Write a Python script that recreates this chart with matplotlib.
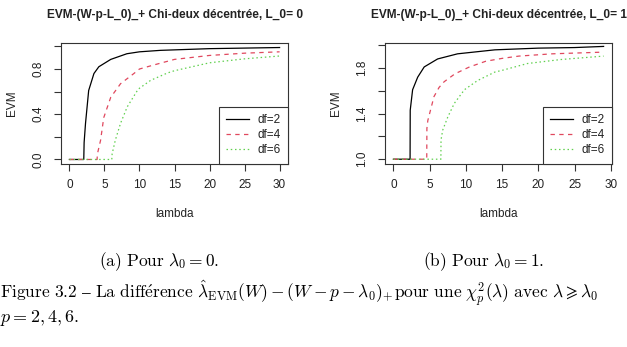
import matplotlib
matplotlib.use("Agg")
import matplotlib.pyplot as plt

# values
# (a) L_0 = 0
lam_a_df2 = [0, 2.05, 2.1, 2.3, 2.75, 3.5, 4.2, 5.9, 8.2, 10, 13, 20, 25, 30]
evm_a_df2 = [0, 0, 0.15, 0.32, 0.61, 0.76, 0.82, 0.885, 0.935, 0.952, 0.965, 0.98, 0.985, 0.99]
lam_a_df4 = [0, 3.95, 4.0, 4.45, 4.9, 5.9, 7.3, 9.2, 10, 12, 15, 20, 25, 30]
evm_a_df4 = [0, 0, 0.05, 0.17, 0.37, 0.55, 0.67, 0.76, 0.8, 0.835, 0.885, 0.92, 0.94, 0.952]
lam_a_df6 = [0, 6.05, 6.1, 6.55, 7.3, 8.25, 9.7, 10, 11.6, 14, 15, 20, 25, 30]
evm_a_df6 = [0, 0, 0.05, 0.17, 0.32, 0.465, 0.61, 0.63, 0.70, 0.765, 0.785, 0.855, 0.89, 0.915]

# (b) L_0 = 1
lam_b_df2 = [0, 2.3, 2.32, 2.65, 3.35, 4.25, 6.1, 8.85, 14, 20, 25, 29]
evm_b_df2 = [1, 1, 1.43, 1.61, 1.72, 1.81, 1.88, 1.925, 1.96, 1.975, 1.98, 1.99]
lam_b_df4 = [0, 4.6, 4.62, 4.75, 5.6, 6.3, 7.0, 8.5, 10.5, 12.75, 15, 17.3, 21.9, 29]
evm_b_df4 = [1, 1, 1.27, 1.34, 1.55, 1.63, 1.68, 1.75, 1.81, 1.86, 1.885, 1.905, 1.925, 1.94]
lam_b_df6 = [0, 6.55, 6.57, 6.8, 7.5, 8.4, 9.8, 11.6, 14, 15, 18.5, 23.1, 29]
evm_b_df6 = [1, 1, 1.17, 1.255, 1.37, 1.49, 1.61, 1.69, 1.765, 1.78, 1.84, 1.875, 1.905]

df_labels = ["df=2", "df=4", "df=6"]
x_ticks = [0, 5, 10, 15, 20, 25, 30]
y_ticks_a = [0.0, 0.2, 0.4, 0.6, 0.8, 1.0]
y_labels_a = ["0.0", "", "0.4", "", "0.8", ""]
y_ticks_b = [1.0, 1.2, 1.4, 1.6, 1.8, 2.0]
y_labels_b = ["1.0", "", "1.4", "", "1.8", ""]

titles = ["EVM-(W-p-L_0)_+ Chi-deux décentrée, L_0= 0",
          "EVM-(W-p-L_0)_+ Chi-deux décentrée, L_0= 1"]
subcaps = [r"$\mathrm{(a)\ Pour}\ \lambda_0 = 0.$",
           r"$\mathrm{(b)\ Pour}\ \lambda_0 = 1.$"]
# first caption line, in pieces so that it runs like the typeset original
caption_parts = [r"$\mathrm{Figure\ 3.2\ –\ La\ diff\acute{e}rence}$",
                 r"$\hat{\lambda}_{\mathrm{EVM}}(W) - (W - p - \lambda_0)_{+}$",
                 r"$\mathrm{pour\ une}\ \chi^2_p(\lambda)\ \mathrm{avec}\ "
                 r"\lambda \geqslant \lambda_0$"]
caption_x = [0, 197, 394]
caption_2 = r"$p = 2, 4, 6.$"

plt.rcParams['mathtext.fontset'] = 'cm'
r_font = ['Liberation Sans', 'DejaVu Sans']
txt = '#222222'

W, H = 627, 347
fig = plt.figure(figsize=(W / 100, H / 100), dpi=100)


def px_axes(x0, x1, y0, y1):
    return fig.add_axes([x0 / W, 1 - y1 / H, (x1 - x0) / W, (y1 - y0) / H])


ax_a = px_axes(61, 288, 43, 164)
ax_b = px_axes(385, 612, 43, 164)

panels = [
    (ax_a, [(lam_a_df2, evm_a_df2), (lam_a_df4, evm_a_df4), (lam_a_df6, evm_a_df6)],
     (-1.2, 31.2), (-0.04, 1.03), y_ticks_a, y_labels_a),
    (ax_b, [(lam_b_df2, evm_b_df2), (lam_b_df4, evm_b_df4), (lam_b_df6, evm_b_df6)],
     (-1.16, 30.16), (0.958, 2.02), y_ticks_b, y_labels_b),
]

colors = ['black', '#E0485E', '#61D04F']
dashes = [None, (3.5, 3.5), (1.2, 2.2)]

for ax, series, xl, yl, yt, ytl in panels:
    for (lx, ly), c, d, lab in zip(series, colors, dashes, df_labels):
        line, = ax.plot(lx, ly, color=c, lw=0.9, label=lab)
        if d is not None:
            line.set_dashes(d)
    ax.set_xlim(*xl)
    ax.set_ylim(*yl)
    ax.set_xticks(x_ticks)
    ax.set_yticks(yt)
    ax.set_yticklabels(ytl, rotation=90, va='center')
    ax.tick_params(axis='x', length=5, width=0.8, pad=6, labelsize=8.5,
                   colors='#333333', labelcolor=txt)
    ax.tick_params(axis='y', length=5, width=0.8, pad=7, labelsize=8.5,
                   colors='#333333', labelcolor=txt)
    for lbl in ax.get_xticklabels() + ax.get_yticklabels():
        lbl.set_family(r_font)
    for sp in ax.spines.values():
        sp.set_color('#333333')
        sp.set_linewidth(0.8)
    leg = ax.legend(loc='lower right', borderaxespad=0, fancybox=False,
                    framealpha=1, edgecolor='#333333', prop={'family': r_font, 'size': 8.5},
                    handlelength=1.9, handletextpad=0.7, labelspacing=0.25,
                    borderpad=0.65)
    leg.get_frame().set_linewidth(0.8)
    for t in leg.get_texts():
        t.set_color(txt)

# titles and axis labels in R style
for cx, t in zip([175, 499], titles):
    fig.text(cx / W, 1 - 15 / H, t, ha='center', va='center', fontsize=8.6,
             fontweight='bold', family=r_font, color=txt)
for cx in [175, 498]:
    fig.text(cx / W, 1 - 214 / H, "lambda", ha='center', va='center',
             fontsize=8.5, family=r_font, color=txt)
for cx in [12, 336]:
    fig.text(cx / W, 1 - 103 / H, "EVM", ha='center', va='center', rotation=90,
             fontsize=8.5, family=r_font, color=txt)

# document captions
for cx, s in zip([159, 484], subcaps):
    fig.text(cx / W, 1 - 262 / H, s, ha='center', va='center', fontsize=12.5)
for cx, s in zip(caption_x, caption_parts):
    fig.text(cx / W, 1 - 298 / H, s, ha='left', va='baseline', fontsize=12.5)
fig.text(0, 1 - 318 / H, caption_2, ha='left', va='center', fontsize=13)

fig.savefig("out.png", dpi=100)
